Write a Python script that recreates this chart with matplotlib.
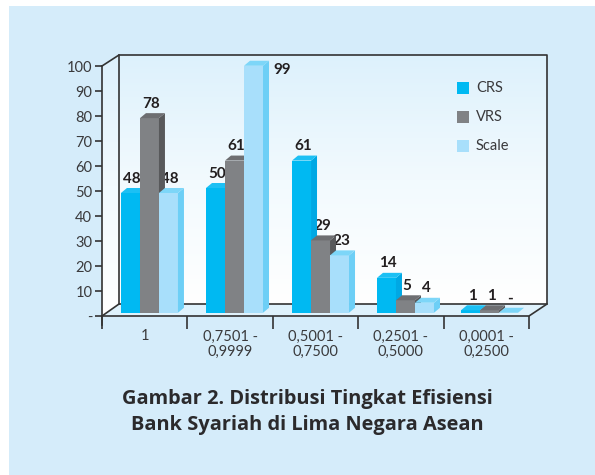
import numpy as np
import matplotlib
matplotlib.use("Agg")
import matplotlib.pyplot as plt
from matplotlib.patches import Polygon
from matplotlib.colors import LinearSegmentedColormap

plt.rcParams['font.family'] = ['Lato', 'DejaVu Sans']

# data
categories = ["1", "0,7501 -\n0,9999", "0,5001 -\n0,7500", "0,2501 -\n0,5000", "0,0001 -\n0,2500"]
crs = [48, 50, 61, 14, 1]
vrs = [78, 61, 29, 5, 1]
scale = [48, 99, 23, 4, 0]
series_names = ["CRS", "VRS", "Scale"]

W, H = 595, 475
colors = ["#00B9F2", "#808285", "#A8DFFB"]
sides = ["#00A8E4", "#58595B", "#6DCFF6"]
tops = ["#1CC0F4", "#6D6E71", "#7DD6F8"]
text_col = "#3A3A3C"
panel = "#D5ECFA"


def px_rect(x0, y0, x1, y1):
    # pixel box (top left origin) to figure fraction
    return [x0 / W, 1 - y1 / H, (x1 - x0) / W, (y1 - y0) / H]


fig = plt.figure(figsize=(W / 100, H / 100), dpi=100, facecolor="white")

# page panel behind everything
bg = fig.add_axes([0, 0, 1, 1], zorder=0)
bg.set_xlim(0, W)
bg.set_ylim(H, 0)
bg.axis("off")
bg.add_patch(plt.Rectangle((9, 6), W - 9, H - 6, fc=panel, ec="none"))

# walls with a soft gradient
wall_cmap = LinearSegmentedColormap.from_list("wall", ["#DDF1FC", "#F2FAFE", "#FFFFFF"])
grad = np.linspace(0, 1, 256).reshape(-1, 1)
bg.imshow(grad, cmap=wall_cmap, extent=(119, 547, 304, 55), aspect="auto", zorder=1)
side = bg.imshow(grad, cmap=wall_cmap, extent=(102, 119, 316, 55), aspect="auto", zorder=1)
side.set_clip_path(Polygon([(102, 66), (119, 55), (119, 304), (102, 316)], transform=bg.transData))
bg.set_xlim(0, W)
bg.set_ylim(H, 0)
line = dict(color="#333333", lw=1.2, zorder=2)
bg.plot([102, 119, 547, 547, 529, 102], [66, 55, 55, 304, 316, 316], **line)
bg.plot([102, 119, 547], [316, 304, 304], **line)
bg.plot([119, 119], [55, 304], **line)
bg.plot([102, 102], [66, 325], **line)
bg.add_patch(Polygon([(102, 316), (119, 304), (547, 304), (529, 316)], fc="#DFF2FC", ec="none", zorder=1.5))

# front plane: x in categories, y in chart units
ax = fig.add_axes(px_rect(102, 66.5, 529, 316), zorder=2)
ax.patch.set_alpha(0)
ax.set_xlim(0, 5)
ax.set_ylim(0, 100)
for s in ax.spines.values():
    s.set_visible(False)

ax.set_yticks(np.arange(0, 101, 10))
ax.set_yticklabels(["-"] + [str(v) for v in range(10, 101, 10)], fontsize=10.5, color=text_col)
ax.tick_params(axis="y", length=5, width=1.2, color="#333333", pad=2)
ax.set_xticks(np.arange(0, 6))
ax.set_xticklabels([])
ax.tick_params(axis="x", length=9, width=1.2, color="#333333")
for i, c in enumerate(categories):
    ax.text(i + 0.5, -5.4, c, ha="center", va="top", fontsize=10.5, color=text_col, linespacing=1.1)

base = 1.3  # bars sit a little behind the front edge
bar_w = 19 / 85.4
dx = 6 / 85.4
dy = 5 / 2.495
starts = [0.222, 1.218, 2.225, 3.22, 4.204]
series = [crs, vrs, scale]

for k, vals in enumerate(series):
    for i, v in enumerate(vals):
        x0 = starts[i] + k * bar_w
        top = base + v
        z = 3 + k * 0.1
        ax.bar(x0, v, bar_w, bottom=base, align="edge", color=colors[k], zorder=z, clip_on=False)
        x1 = x0 + bar_w
        ax.add_patch(Polygon([(x1, base), (x1 + dx, base + dy), (x1 + dx, top + dy), (x1, top)],
                             fc=sides[k], ec="none", zorder=z, clip_on=False))
        ax.add_patch(Polygon([(x0, top), (x0 + dx, top + dy), (x1 + dx, top + dy), (x1, top)],
                             fc=tops[k], ec="none", zorder=z, clip_on=False))

# value labels sit behind the bars, so neighbours cut into them
for k, vals in enumerate(series):
    for i, v in enumerate(vals):
        xc = starts[i] + k * bar_w + bar_w / 2 + 0.02
        lab = str(v) if v > 0 else "-"
        y = base + v + 3.0
        if k == 2 and i == 1:
            xc += 0.31
            y = base + v - 4.5
        ax.text(xc, y, lab, ha="center", va="bottom", fontsize=11,
                fontweight="bold", color="#231F20", zorder=2.5, clip_on=False)

# legend
leg_y = [88, 117, 146]
for name, c, y in zip(series_names, colors, leg_y):
    bg.add_patch(plt.Rectangle((457, y - 6), 12, 12, fc=c, ec="none", zorder=2))
    bg.text(476, y, name, fontsize=10.5, color=text_col, va="center", ha="left", zorder=3)

bg.text(307.5, 412, "Gambar 2. Distribusi Tingkat Efisiensi\nBank Syariah di Lima Negara Asean",
        ha="center", va="center", fontsize=14.4, fontweight="bold", color="#2B2A2C",
        linespacing=1.4, family=["Open Sans", "DejaVu Sans"])

fig.savefig("out.png", dpi=100, facecolor="white")
